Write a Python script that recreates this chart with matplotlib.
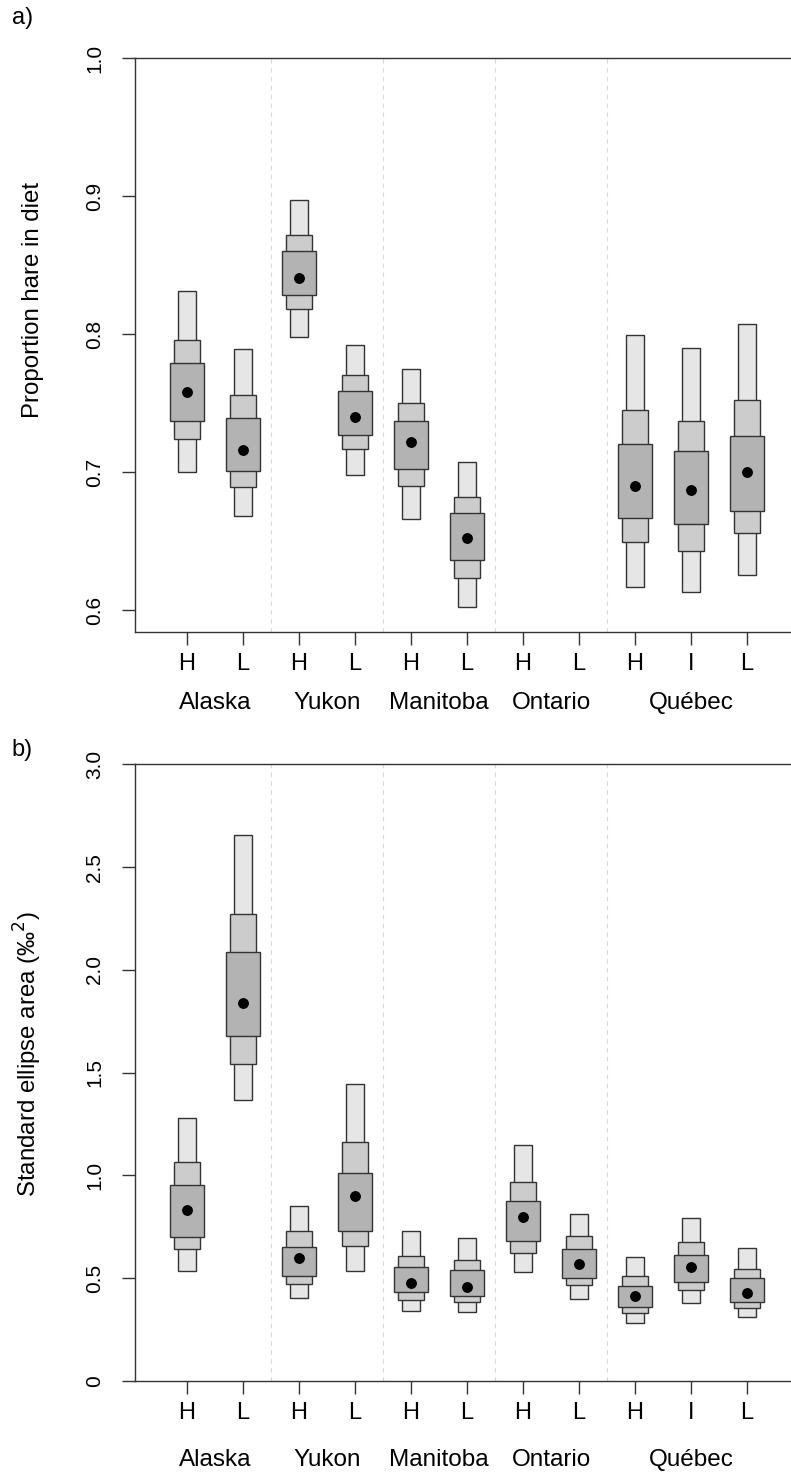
import numpy as np
import matplotlib
matplotlib.use('Agg')
import matplotlib.pyplot as plt
import matplotlib.transforms as mtransforms

plt.rcParams['font.family'] = ['Liberation Sans', 'DejaVu Sans']

# Groups and credible-interval summaries (95 / 75 / 50 % boxes + mode)
groups = ['Alaska', 'Yukon', 'Manitoba', 'Ontario', 'Québec']
group_pos = [1.5, 3.5, 5.5, 7.5, 10]
tick_labels = ['H', 'L', 'H', 'L', 'H', 'L', 'H', 'L', 'H', 'I', 'L']
nan = np.nan

# a) proportion hare in diet (no estimate for Ontario)
diet_mode = [0.758, 0.716, 0.841, 0.740, 0.722, 0.652, nan, nan, 0.690, 0.687, 0.700]
diet_lo95 = [0.700, 0.668, 0.798, 0.698, 0.666, 0.602, nan, nan, 0.617, 0.613, 0.625]
diet_hi95 = [0.831, 0.789, 0.897, 0.792, 0.775, 0.707, nan, nan, 0.799, 0.790, 0.807]
diet_lo75 = [0.724, 0.689, 0.818, 0.717, 0.690, 0.623, nan, nan, 0.649, 0.643, 0.656]
diet_hi75 = [0.796, 0.756, 0.872, 0.770, 0.750, 0.682, nan, nan, 0.745, 0.737, 0.752]
diet_lo50 = [0.737, 0.701, 0.828, 0.727, 0.702, 0.636, nan, nan, 0.667, 0.662, 0.672]
diet_hi50 = [0.779, 0.739, 0.860, 0.759, 0.737, 0.670, nan, nan, 0.720, 0.715, 0.726]

# b) standard ellipse area
sea_mode = [0.834, 1.837, 0.597, 0.899, 0.476, 0.456, 0.798, 0.570, 0.414, 0.555, 0.428]
sea_lo95 = [0.536, 1.367, 0.404, 0.536, 0.341, 0.336, 0.529, 0.399, 0.284, 0.381, 0.312]
sea_hi95 = [1.280, 2.656, 0.852, 1.445, 0.730, 0.695, 1.150, 0.814, 0.605, 0.795, 0.647]
sea_lo75 = [0.641, 1.541, 0.474, 0.656, 0.394, 0.383, 0.625, 0.466, 0.330, 0.443, 0.355]
sea_hi75 = [1.066, 2.272, 0.730, 1.163, 0.608, 0.589, 0.967, 0.704, 0.510, 0.677, 0.547]
sea_lo50 = [0.701, 1.679, 0.510, 0.730, 0.432, 0.414, 0.680, 0.503, 0.359, 0.481, 0.386]
sea_hi50 = [0.952, 2.087, 0.654, 1.014, 0.556, 0.539, 0.876, 0.644, 0.463, 0.615, 0.500]

x = np.arange(1, 12)
box_width = {95: 0.32, 75: 0.46, 50: 0.60}
box_color = {95: '#e6e6e6', 75: '#cccccc', 50: '#b3b3b3'}
edge = '#333333'
axis_col = '#333333'


def draw_panel(ax, mode, levels, ylim, yticks, yticklabels, ylabel, group_y, label_y):
    # narrow 95% box first, wider 75% and 50% boxes drawn over it
    for lev, (lo, hi) in levels:
        lo = np.array(lo)
        hi = np.array(hi)
        ok = ~np.isnan(lo)
        ax.bar(x[ok], hi[ok] - lo[ok], bottom=lo[ok], width=box_width[lev],
               color=box_color[lev], edgecolor=edge, linewidth=1.0, zorder=3)
    m = np.array(mode)
    ok = ~np.isnan(m)
    ax.plot(x[ok], m[ok], 'o', color='black', markersize=6.8, zorder=4)

    for sep in [2.5, 4.5, 6.5, 8.5]:
        ax.axvline(sep, color='#d9d9d9', linestyle=(0, (4, 4)), linewidth=0.8, zorder=1)

    ax.set_xlim(0.071, 11.786)
    ax.set_ylim(*ylim)
    ax.spines['right'].set_visible(False)
    for s in ['left', 'top', 'bottom']:
        ax.spines[s].set_color(axis_col)
        ax.spines[s].set_linewidth(1.0)

    ax.set_xticks(x)
    ax.set_xticklabels(tick_labels, fontsize=17)
    ax.tick_params(axis='x', length=9, width=1.0, color=axis_col, pad=6)
    ax.set_yticks(yticks)
    ax.set_yticklabels(yticklabels, fontsize=15, rotation=90, va='center')
    ax.tick_params(axis='y', length=9.4, width=1.0, color=axis_col, pad=13)

    trans = mtransforms.blended_transform_factory(ax.transData, ax.transAxes)
    for g, p in zip(groups, group_pos):
        ax.text(p, group_y, g, transform=trans, ha='center', va='center', fontsize=17.5)

    ax.set_ylabel(ylabel, fontsize=17.3)
    ax.yaxis.set_label_coords(-0.139, label_y)


fig = plt.figure(figsize=(7.91, 14.75), dpi=100)
ax1 = fig.add_axes([0.1707, 0.5715, 0.8293, 0.389])
ax2 = fig.add_axes([0.1707, 0.0637, 0.8293, 0.4181])

draw_panel(ax1, diet_mode,
           [(95, (diet_lo95, diet_hi95)), (75, (diet_lo75, diet_hi75)), (50, (diet_lo50, diet_hi50))],
           (0.584, 1.0), [0.6, 0.7, 0.8, 0.9, 1.0], ['0.6', '0.7', '0.8', '0.9', '1.0'],
           'Proportion hare in diet', -0.124, 0.578)
draw_panel(ax2, sea_mode,
           [(95, (sea_lo95, sea_hi95)), (75, (sea_lo75, sea_hi75)), (50, (sea_lo50, sea_hi50))],
           (0, 3.0), [0, 0.5, 1.0, 1.5, 2.0, 2.5, 3.0], ['0', '0.5', '1.0', '1.5', '2.0', '2.5', '3.0'],
           'Standard ellipse area (‰$^2$)', -0.128, 0.53)

fig.text(0.015, 0.988, 'a)', fontsize=17, va='center', ha='left')
fig.text(0.015, 0.4915, 'b)', fontsize=17, va='center', ha='left')

fig.savefig('out.png', dpi=100)
